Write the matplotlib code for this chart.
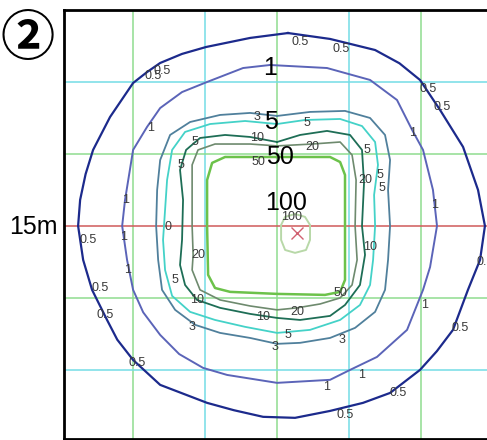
import matplotlib
matplotlib.use('Agg')
import matplotlib.pyplot as plt

# 照度分布図 ② — contour lines (metres, 0..30 box)
levels = ['0.5', '1', '3', '5', '10', '20', '50', '100']
line_colors = ['#1c2a8c', '#5b64b8', '#50809c', '#44d2c8', '#1e6e56', '#6e8a6e', '#6cc24a', '#b8d8a8']
line_widths = [1.6, 1.4, 1.3, 1.3, 1.3, 1.2, 1.8, 1.4]

c_05 = [(15.76, 28.40), (18.68, 27.99), (21.81, 27.22), (23.50, 26.30), (24.93, 25.14),
        (26.32, 23.06), (27.92, 20.49), (28.96, 17.50), (29.44, 15.00), (29.10, 12.64),
        (28.26, 10.56), (27.22, 7.78), (26.10, 6.30), (24.93, 5.00), (22.85, 3.40),
        (20.97, 2.71), (18.68, 2.15), (16.25, 1.67), (14.03, 1.74), (12.00, 2.20),
        (10.14, 2.71), (6.88, 3.96), (5.00, 5.69), (3.90, 7.10), (3.19, 8.47),
        (2.15, 10.56), (1.53, 12.64), (1.18, 15.00), (1.32, 16.81), (1.70, 18.60),
        (2.22, 20.28), (3.40, 22.57), (5.00, 24.93), (5.97, 25.69), (6.88, 26.32),
        (8.40, 26.95), (10.07, 27.43), (13.13, 28.06)]
c_1 = [(14.51, 26.18), (18.47, 25.97), (21.46, 25.14), (23.33, 23.75), (24.38, 21.67),
       (25.14, 20.28), (25.83, 17.50), (26.11, 15.00), (25.63, 12.15), (25.14, 10.56),
       (24.03, 7.78), (21.94, 5.90), (20.07, 5.00), (18.68, 4.31), (15.00, 4.10),
       (11.53, 4.65), (9.86, 5.14), (8.20, 6.10), (6.88, 7.43), (5.70, 9.00),
       (5.00, 10.56), (4.58, 12.64), (4.24, 15.00), (4.44, 16.81), (5.00, 20.28),
       (5.97, 21.88), (6.88, 23.19), (8.40, 24.30), (10.14, 25.00), (12.64, 25.97)]
c_3 = [(15.00, 22.64), (17.29, 22.92), (19.72, 22.99), (21.46, 22.50), (22.50, 21.32),
       (22.85, 19.58), (22.71, 17.50), (22.85, 15.00), (22.71, 12.64), (22.50, 10.56),
       (21.81, 9.03), (20.42, 7.92), (18.68, 7.22), (16.60, 6.88), (15.00, 6.81),
       (13.13, 7.22), (11.04, 7.57), (9.31, 8.13), (7.92, 9.17), (7.01, 10.56),
       (6.74, 12.64), (6.60, 15.00), (6.67, 17.50), (6.88, 19.58), (7.57, 21.32),
       (8.96, 22.22), (11.04, 22.71), (13.13, 22.85)]
c_5 = [(15.00, 22.08), (16.94, 22.36), (19.38, 22.43), (20.90, 21.94), (21.81, 20.83),
       (22.01, 19.24), (21.74, 17.15), (21.81, 15.00), (21.67, 12.64), (21.46, 10.90),
       (20.76, 9.51), (19.38, 8.47), (17.29, 7.78), (15.00, 7.57), (12.78, 7.99),
       (10.69, 8.47), (8.96, 9.03), (7.71, 10.14), (7.22, 11.94), (7.08, 14.03),
       (7.22, 16.11), (7.36, 18.19), (7.71, 20.28), (8.61, 21.53), (10.35, 22.08),
       (12.78, 22.29)]
c_10 = [(15.00, 20.83), (16.60, 21.32), (18.47, 21.60), (20.07, 21.32), (20.90, 20.28),
        (21.04, 17.99), (20.90, 15.00), (21.11, 12.99), (20.76, 10.90), (19.72, 9.51),
        (18.68, 8.75), (16.60, 8.47), (15.00, 8.61), (13.13, 8.89), (11.04, 9.31),
        (9.44, 9.86), (8.61, 10.90), (8.26, 12.29), (8.40, 14.03), (8.47, 16.81),
        (8.26, 18.89), (8.68, 20.28), (9.65, 21.11), (11.39, 21.32), (13.13, 21.18)]
c_20 = [(15.00, 20.56), (17.43, 20.69), (19.38, 20.83), (20.21, 19.93), (20.49, 18.19),
        (20.42, 15.00), (20.56, 12.64), (20.21, 10.90), (19.38, 10.00), (17.99, 9.58),
        (16.39, 9.31), (15.00, 9.17), (13.13, 9.44), (11.04, 9.86), (9.65, 10.56),
        (9.10, 11.94), (9.17, 12.99), (9.10, 15.00), (9.10, 17.50), (9.10, 19.24),
        (9.51, 20.28), (10.69, 20.69), (13.13, 20.69)]
c_50 = [(15.00, 19.79), (18.68, 19.79), (19.38, 19.44), (19.72, 18.54), (19.72, 15.00),
        (19.72, 11.25), (19.38, 10.42), (18.33, 10.21), (15.00, 10.28), (11.74, 10.42),
        (10.69, 10.69), (10.21, 11.60), (10.14, 15.00), (10.14, 18.19), (10.49, 19.38),
        (11.39, 19.79)]
c_100 = [(16.25, 15.83), (16.94, 15.63), (17.29, 15.07), (17.29, 14.03), (17.01, 13.33),
         (16.25, 13.13), (15.56, 13.33), (15.28, 14.03), (15.28, 15.07), (15.56, 15.63)]
contours = [c_05, c_1, c_3, c_5, c_10, c_20, c_50, c_100]

# luminaire position
lamp_xy = (16.39, 14.51)

# small inline labels (text, x, y)
small_labels = [
    ('0.5', 16.60, 27.78), ('0.5', 19.44, 27.29), ('0.5', 6.39, 25.42), ('0.5', 7.01, 25.76),
    ('0.5', 25.49, 24.51), ('0.5', 26.46, 23.26), ('1', 24.38, 21.46), ('1', 6.18, 21.81),
    ('1', 4.51, 16.81), ('1', 4.31, 14.24), ('1', 4.65, 11.94), ('0.5', 1.88, 14.03),
    ('0.5', 2.71, 10.69), ('0.5', 3.06, 8.82), ('0.5', 5.28, 5.49), ('1', 25.28, 9.51),
    ('0.5', 27.71, 7.92), ('1', 20.90, 4.65), ('0.5', 23.40, 3.40), ('0.5', 19.72, 1.88),
    ('1', 18.47, 3.82), ('1', 25.97, 16.46), ('0.5', 29.44, 12.50), ('3', 13.61, 22.57),
    ('5', 17.08, 22.15), ('10', 13.61, 21.11), ('20', 17.43, 20.49), ('5', 9.31, 20.83),
    ('5', 8.33, 19.24), ('50', 13.68, 19.44), ('100', 16.04, 15.63), ('0', 7.43, 14.93),
    ('20', 9.51, 12.99), ('5', 7.92, 11.25), ('10', 9.44, 9.86), ('3', 9.10, 7.99),
    ('10', 14.03, 8.68), ('20', 16.39, 9.03), ('5', 15.76, 7.43), ('3', 14.86, 6.60),
    ('3', 19.51, 7.08), ('50', 19.38, 10.35), ('10', 21.46, 13.54), ('20', 21.11, 18.19),
    ('5', 22.15, 18.54), ('5', 22.29, 17.64), ('5', 21.25, 20.28),
]
# big labels (text, x, y)
big_labels = [('1', 14.51, 25.97), ('5', 14.58, 22.22), ('50', 15.21, 19.79), ('100', 15.62, 16.60)]

# grid
v_lines = [5, 10, 15, 20, 25]
v_colors = ['#8fdc8f', '#74dde6', '#8fdc8f', '#74dde6', '#8fdc8f']
h_lines = [25, 20, 15, 10, 5]
h_colors = ['#74dde6', '#8fdc8f', '#d05a5a', '#8fdc8f', '#74dde6']

W, H = 487, 440
fig = plt.figure(figsize=(W / 100, H / 100), dpi=100)
ax = fig.add_axes([64 / W, 1 - 439 / H, 429 / W, 429 / H])
ax.set_xlim(0.2, 30)
ax.set_ylim(0.2, 30)

for v, c in zip(v_lines, v_colors):
    ax.axvline(v, color=c, lw=1.1, zorder=1)
for h, c in zip(h_lines, h_colors):
    ax.axhline(h, color=c, lw=1.1, zorder=1)

for pts, col, lw in zip(contours, line_colors, line_widths):
    xs = [p[0] for p in pts] + [pts[0][0]]
    ys = [p[1] for p in pts] + [pts[0][1]]
    ax.plot(xs, ys, color=col, lw=lw, zorder=2, solid_joinstyle='round')

ax.plot(*lamp_xy, marker='x', color='#d06070', markersize=9, mew=1.0, zorder=3)

small_font = ['Liberation Sans Narrow', 'Liberation Sans', 'DejaVu Sans']
for t, x, y in small_labels:
    ax.text(x, y, t, fontsize=9, color='#3a3a3a', ha='center', va='center',
            family=small_font, zorder=4)
for t, x, y in big_labels:
    ax.text(x, y, t, fontsize=18, color='black', ha='center', va='center',
            family=['Liberation Sans', 'DejaVu Sans'], zorder=5)

ax.set_xticks([])
ax.set_yticks([])
for side in ['left', 'top', 'bottom']:
    ax.spines[side].set_linewidth(2.0)
    ax.spines[side].set_color('black')
ax.spines['right'].set_visible(False)

fig.text(28 / W, 1 - 39 / H, '②', fontsize=39, fontweight='bold', ha='center', va='center',
         family=['Noto Sans CJK JP', 'DejaVu Sans'])
fig.text(33 / W, 1 - 227 / H, '15m', fontsize=18, ha='center', va='center',
         family=['Liberation Sans', 'DejaVu Sans'])

fig.savefig('out.png', dpi=100)
